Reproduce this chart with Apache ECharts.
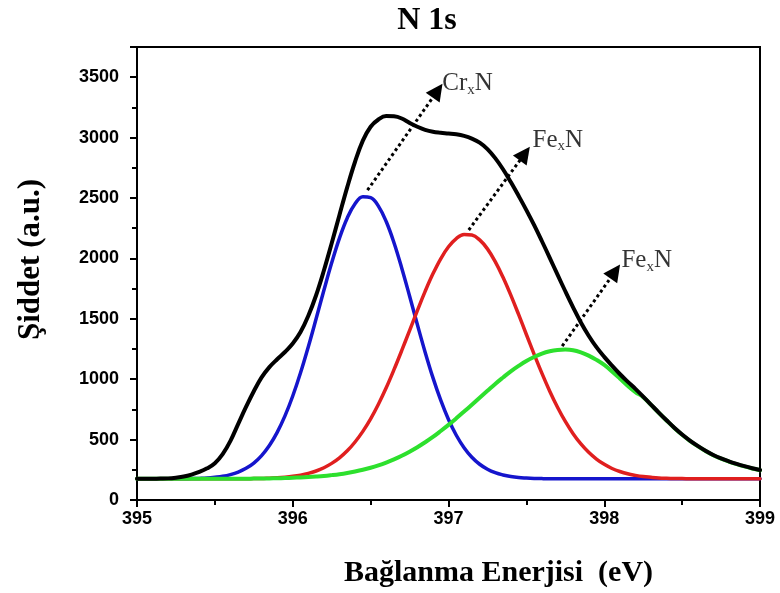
<!DOCTYPE html>
<html>
<head>
<meta charset="utf-8">
<script src="https://cdn.jsdelivr.net/npm/echarts@6/dist/echarts.min.js"></script>
<style>
  html, body { margin: 0; padding: 0; background: #fff; }
  #chart { width: 780px; height: 593px; }
</style>
</head>
<body>
<div id="chart"></div>
<script>
// Binding energy grid (eV)
const energy = [
  395.00, 395.05, 395.10, 395.15, 395.20, 395.25, 395.30, 395.35, 395.40, 395.45,
  395.50, 395.55, 395.60, 395.65, 395.70, 395.75, 395.80, 395.85, 395.90, 395.95,
  396.00, 396.05, 396.10, 396.15, 396.20, 396.25, 396.30, 396.35, 396.40, 396.45,
  396.50, 396.55, 396.60, 396.65, 396.70, 396.75, 396.80, 396.85, 396.90, 396.95,
  397.00, 397.05, 397.10, 397.15, 397.20, 397.25, 397.30, 397.35, 397.40, 397.45,
  397.50, 397.55, 397.60, 397.65, 397.70, 397.75, 397.80, 397.85, 397.90, 397.95,
  398.00, 398.05, 398.10, 398.15, 398.20, 398.25, 398.30, 398.35, 398.40, 398.45,
  398.50, 398.55, 398.60, 398.65, 398.70, 398.75, 398.80, 398.85, 398.90, 398.95,
  399.00
];

// Measured N 1s envelope
const envelope = [
  175, 175, 176, 177, 179, 185, 194, 210, 232, 262,
  305, 380, 490, 630, 770, 900, 1015, 1100, 1165, 1225,
  1295, 1390, 1525, 1695, 1900, 2125, 2360, 2590, 2800, 2975,
  3090, 3150, 3178, 3176, 3158, 3122, 3090, 3064, 3048, 3040,
  3034, 3027, 3014, 2992, 2958, 2905, 2830, 2738, 2632, 2518,
  2400, 2275, 2142, 2005, 1865, 1728, 1595, 1470, 1360, 1265,
  1185, 1112, 1043, 980, 920, 856, 790, 724, 660, 598,
  542, 492, 448, 408, 373, 344, 320, 299, 280, 263,
  248
];

// CrxN component
const crN = [
  175, 175, 175, 175, 175, 175, 176, 177, 179, 182,
  188, 196, 210, 231, 262, 306, 368, 451, 560, 696,
  861, 1053, 1269, 1500, 1736, 1963, 2168, 2335, 2452, 2510,
  2503, 2433, 2305, 2130, 1919, 1689, 1453, 1224, 1013, 826,
  666, 536, 433, 354, 296, 255, 226, 207, 194, 186,
  182, 179, 177, 176, 176, 175, 175, 175, 175, 175,
  175, 175, 175, 175, 175, 175, 175, 175, 175, 175,
  175, 175, 175, 175, 175, 175, 175, 175, 175, 175,
  175
];

// FexN component (397.1 eV)
const feN1 = [
  175, 175, 175, 175, 175, 175, 175, 175, 175, 175,
  175, 175, 175, 175, 176, 177, 178, 181, 184, 189,
  196, 206, 220, 240, 267, 303, 349, 407, 480, 568,
  672, 793, 929, 1079, 1238, 1403, 1568, 1727, 1872, 1997,
  2096, 2164, 2197, 2193, 2153, 2079, 1974, 1844, 1696, 1536,
  1370, 1206, 1048, 901, 768, 650, 549, 464, 395, 339,
  295, 261, 236, 217, 204, 194, 188, 183, 180, 178,
  177, 176, 175, 175, 175, 175, 175, 175, 175, 175,
  175
];

// FexN component (397.7 eV)
const feN2 = [
  175, 175, 175, 175, 175, 175, 175, 175, 175, 175,
  175, 175, 175, 176, 176, 177, 178, 179, 180, 182,
  184, 187, 190, 194, 199, 206, 214, 224, 236, 250,
  267, 287, 310, 336, 366, 400, 437, 478, 522, 571,
  622, 676, 732, 789, 847, 904, 961, 1014, 1065, 1110,
  1151, 1184, 1212, 1231, 1242, 1245, 1240, 1222, 1195, 1160,
  1118, 1064, 1006, 946, 893, 852, 788, 722, 658, 596,
  540, 490, 446, 406, 371, 342, 318, 297, 278, 261,
  246
];

// Peak annotations: arrow start, arrow tip, label anchor
const arrowStart = [[396.48, 2565], [397.13, 2235], [397.73, 1274]];
const arrowEnd   = [[396.93, 3388], [397.49, 2867], [398.07, 1892]];
const labelPos   = [[396.96, 3450], [397.54, 2980], [398.11, 1985]];
const labelMain  = ['Cr', 'Fe', 'Fe'];

const xTicks = { min: 395, max: 399, step: 1 };
const yTicks = { min: 0, max: 3750, step: 500 };

const pairs = (ys) => energy.map((e, i) => [e, ys[i]]);

const lineSeries = (name, ys, color, width) => ({
  name: name,
  type: 'line',
  data: pairs(ys),
  smooth: 0.4,
  showSymbol: false,
  symbol: 'none',
  lineStyle: { color: color, width: width, cap: 'round', join: 'round' },
  silent: true,
  animation: false
});

const chart = echarts.init(document.getElementById('chart'), null, { renderer: 'canvas' });

const axisCommon = {
  axisLine: { show: true, onZero: false, lineStyle: { color: '#000', width: 2 } },
  axisTick: { show: true, inside: false, length: 7, lineStyle: { color: '#000', width: 2 } },
  minorTick: { show: true, splitNumber: 2, length: 5, lineStyle: { color: '#000', width: 2 } },
  splitLine: { show: false },
  minorSplitLine: { show: false }
};

const black = lineSeries('envelope', envelope, '#000000', 4);
black.markLine = {
  silent: true,
  animation: false,
  symbol: ['none', 'triangle'],
  symbolSize: 17,
  label: { show: false },
  lineStyle: { color: '#000', width: 3, type: [3, 3] },
  itemStyle: { color: '#000' },
  emphasis: { disabled: true },
  data: arrowStart.map((s, i) => [
    { coord: s, symbol: 'none' },
    { coord: arrowEnd[i], symbol: 'triangle', symbolSize: 17 }
  ])
};

const option = {
  animation: false,
  backgroundColor: '#fff',
  title: {
    text: 'N 1s',
    left: 422,
    top: 0,
    textAlign: 'center',
    textStyle: { fontFamily: 'Liberation Serif', fontWeight: 'bold', fontSize: 32, color: '#000' }
  },
  grid: {
    left: 137, right: 20, top: 47, bottom: 90,
    show: true, borderColor: '#000', borderWidth: 2, backgroundColor: 'transparent'
  },
  xAxis: Object.assign({
    type: 'value',
    min: xTicks.min, max: xTicks.max, interval: xTicks.step,
    name: 'Bağlanma Enerjisi  (eV)',
    nameLocation: 'middle',
    nameGap: 58,
    nameTextStyle: {
      fontFamily: 'Liberation Serif', fontWeight: 'bold', fontSize: 30, color: '#000',
      padding: [0, 0, 0, 100]
    },
    axisLabel: {
      fontFamily: 'Liberation Sans', fontWeight: 'bold', fontSize: 18, color: '#000', margin: 10,
      formatter: (v) => String(v)
    }
  }, axisCommon),
  yAxis: Object.assign({
    type: 'value',
    min: yTicks.min, max: yTicks.max, interval: yTicks.step,
    name: 'Şiddet (a.u.)',
    nameLocation: 'middle',
    nameGap: 91,
    nameTextStyle: {
      fontFamily: 'Liberation Serif', fontWeight: 'bold', fontSize: 31, color: '#000',
      padding: [0, 0, 0, 28]
    },
    axisLabel: {
      fontFamily: 'Liberation Sans', fontWeight: 'bold', fontSize: 18, color: '#000', margin: 18,
      showMaxLabel: false,
      formatter: (v) => String(v)
    }
  }, axisCommon),
  series: [
    lineSeries('CrxN', crN, '#1515cc', 3.5),
    lineSeries('FexN 397.1', feN1, '#e01f1f', 3.5),
    lineSeries('FexN 397.7', feN2, '#2de02d', 4),
    black,
    {
      name: 'labels',
      type: 'scatter',
      symbolSize: 0,
      silent: true,
      animation: false,
      data: labelPos,
      label: {
        show: true,
        position: 'right',
        distance: 0,
        color: '#000',
        formatter: (p) => '{a|' + labelMain[p.dataIndex] + '}{s|x}{a|N}',
        rich: {
          a: { fontFamily: 'Liberation Serif', fontSize: 25, color: '#000', lineHeight: 28 },
          s: { fontFamily: 'Liberation Serif', fontSize: 15, color: '#000', lineHeight: 28, verticalAlign: 'bottom' }
        }
      }
    }
  ]
};

chart.setOption(option);
</script>
</body>
</html>
